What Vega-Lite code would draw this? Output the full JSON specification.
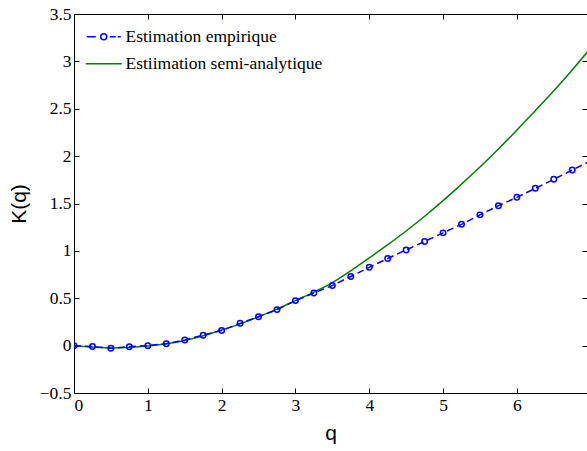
{
  "$schema": "https://vega.github.io/schema/vega-lite/v6.json",
  "width": 513,
  "height": 379,
  "autosize": {"type": "none"},
  "padding": {"left": 74, "top": 14, "right": 0, "bottom": 58},
  "background": "white",
  "config": {
    "view": {"stroke": null},
    "axis": {
      "grid": false,
      "domainColor": "#000000",
      "domainWidth": 1,
      "tickColor": "#000000",
      "tickWidth": 1,
      "tickSize": -5,
      "labelFont": "Liberation Serif, Times New Roman, serif",
      "labelFontSize": 17.5,
      "labelColor": "#000000",
      "titleFont": "Liberation Sans, Arial, sans-serif",
      "titleFontSize": 21,
      "titleFontWeight": "normal",
      "titleColor": "#000000"
    }
  },
  "data": {
    "values": [
      {"q": 0, "K": 0, "series": "Estimation empirique"},
      {"q": 0.25, "K": -0.01, "series": "Estimation empirique"},
      {"q": 0.5, "K": -0.027, "series": "Estimation empirique"},
      {"q": 0.75, "K": -0.012, "series": "Estimation empirique"},
      {"q": 1, "K": 0, "series": "Estimation empirique"},
      {"q": 1.25, "K": 0.02, "series": "Estimation empirique"},
      {"q": 1.5, "K": 0.06, "series": "Estimation empirique"},
      {"q": 1.75, "K": 0.11, "series": "Estimation empirique"},
      {"q": 2, "K": 0.16, "series": "Estimation empirique"},
      {"q": 2.25, "K": 0.235, "series": "Estimation empirique"},
      {"q": 2.5, "K": 0.305, "series": "Estimation empirique"},
      {"q": 2.75, "K": 0.38, "series": "Estimation empirique"},
      {"q": 3, "K": 0.475, "series": "Estimation empirique"},
      {"q": 3.25, "K": 0.555, "series": "Estimation empirique"},
      {"q": 3.5, "K": 0.635, "series": "Estimation empirique"},
      {"q": 3.75, "K": 0.73, "series": "Estimation empirique"},
      {"q": 4, "K": 0.826, "series": "Estimation empirique"},
      {"q": 4.25, "K": 0.92, "series": "Estimation empirique"},
      {"q": 4.5, "K": 1.01, "series": "Estimation empirique"},
      {"q": 4.75, "K": 1.1, "series": "Estimation empirique"},
      {"q": 5, "K": 1.19, "series": "Estimation empirique"},
      {"q": 5.25, "K": 1.28, "series": "Estimation empirique"},
      {"q": 5.5, "K": 1.38, "series": "Estimation empirique"},
      {"q": 5.75, "K": 1.477, "series": "Estimation empirique"},
      {"q": 6, "K": 1.565, "series": "Estimation empirique"},
      {"q": 6.25, "K": 1.66, "series": "Estimation empirique"},
      {"q": 6.5, "K": 1.755, "series": "Estimation empirique"},
      {"q": 6.75, "K": 1.853, "series": "Estimation empirique"},
      {"q": 7, "K": 1.95, "series": "Estimation empirique"},
      {"q": 0, "K": 0, "series": "Estiimation semi-analytique"},
      {"q": 0.25, "K": -0.015, "series": "Estiimation semi-analytique"},
      {"q": 0.5, "K": -0.025, "series": "Estiimation semi-analytique"},
      {"q": 0.75, "K": -0.02, "series": "Estiimation semi-analytique"},
      {"q": 1, "K": -0.005, "series": "Estiimation semi-analytique"},
      {"q": 1.25, "K": 0.02, "series": "Estiimation semi-analytique"},
      {"q": 1.5, "K": 0.055, "series": "Estiimation semi-analytique"},
      {"q": 1.75, "K": 0.105, "series": "Estiimation semi-analytique"},
      {"q": 2, "K": 0.165, "series": "Estiimation semi-analytique"},
      {"q": 2.25, "K": 0.23, "series": "Estiimation semi-analytique"},
      {"q": 2.5, "K": 0.305, "series": "Estiimation semi-analytique"},
      {"q": 2.75, "K": 0.385, "series": "Estiimation semi-analytique"},
      {"q": 3, "K": 0.475, "series": "Estiimation semi-analytique"},
      {"q": 3.25, "K": 0.565, "series": "Estiimation semi-analytique"},
      {"q": 3.5, "K": 0.665, "series": "Estiimation semi-analytique"},
      {"q": 3.75, "K": 0.79, "series": "Estiimation semi-analytique"},
      {"q": 4, "K": 0.925, "series": "Estiimation semi-analytique"},
      {"q": 4.25, "K": 1.065, "series": "Estiimation semi-analytique"},
      {"q": 4.5, "K": 1.21, "series": "Estiimation semi-analytique"},
      {"q": 4.75, "K": 1.365, "series": "Estiimation semi-analytique"},
      {"q": 5, "K": 1.53, "series": "Estiimation semi-analytique"},
      {"q": 5.25, "K": 1.705, "series": "Estiimation semi-analytique"},
      {"q": 5.5, "K": 1.885, "series": "Estiimation semi-analytique"},
      {"q": 5.75, "K": 2.075, "series": "Estiimation semi-analytique"},
      {"q": 6, "K": 2.275, "series": "Estiimation semi-analytique"},
      {"q": 6.25, "K": 2.48, "series": "Estiimation semi-analytique"},
      {"q": 6.5, "K": 2.69, "series": "Estiimation semi-analytique"},
      {"q": 6.75, "K": 2.91, "series": "Estiimation semi-analytique"},
      {"q": 7, "K": 3.14, "series": "Estiimation semi-analytique"}
    ]
  },
  "layer": [
    {
      "encoding": {
        "x": {
          "field": "q", "type": "quantitative",
          "scale": {"domain": [0, 6.95], "nice": false, "zero": false},
          "axis": {"orient": "bottom", "values": [0, 1, 2, 3, 4, 5, 6], "format": "~g", "title": "q", "labelPadding": 8, "titlePadding": 9}
        },
        "y": {
          "field": "K", "type": "quantitative",
          "scale": {"domain": [-0.5, 3.5], "nice": false, "zero": false},
          "axis": {"orient": "left", "values": [-0.5, 0, 0.5, 1, 1.5, 2, 2.5, 3, 3.5], "format": "~g", "title": "K(q)", "labelPadding": 8, "titlePadding": 10}
        },
        "color": {
          "field": "series", "type": "nominal",
          "scale": {"domain": ["Estimation empirique", "Estiimation semi-analytique"], "range": ["#0000ff", "#008000"]},
          "legend": {
            "title": null,
            "orient": "none",
            "legendX": 21,
            "legendY": 14,
            "padding": 0,
            "symbolSize": 100,
            "symbolStrokeWidth": 1.5,
            "labelOffset": 13,
            "labelLimit": 400,
            "labelFont": "Liberation Serif, Times New Roman, serif",
            "labelFontSize": 17.5,
            "labelColor": "#000000",
            "rowPadding": 8,
            "encode": {
              "symbols": {
                "update": {
                  "shape": {"signal": "datum.value === 'Estimation empirique' ? 'M-3.4,0L-1.6,0M-0.6,0A0.6,0.6 0 1,1 0.6,0A0.6,0.6 0 1,1 -0.6,0M1.2,0L2.4,0M2.8,0L3.4,0' : 'M-3.6,0L3.6,0'"},
                  "fill": {"value": "transparent"},
                  "strokeDash": {"value": []},
                  "strokeWidth": {"value": 1.5}
                }
              }
            }
          }
        }
      },
      "layer": [
        {
          "transform": [{"filter": "datum.series === 'Estiimation semi-analytique'"}],
          "mark": {"type": "line", "clip": true, "strokeWidth": 1.5, "interpolate": "monotone"}
        },
        {
          "transform": [{"filter": "datum.series === 'Estimation empirique'"}],
          "mark": {"type": "line", "clip": true, "strokeWidth": 1.5, "strokeDash": [7, 4]}
        },
        {
          "transform": [{"filter": "datum.series === 'Estimation empirique'"}],
          "mark": {"type": "point", "clip": true, "shape": "circle", "filled": false, "size": 30, "strokeWidth": 1.5, "opacity": 1}
        }
      ]
    },
    {
      "transform": [{"filter": "datum.series === 'Estimation empirique'"}],
      "mark": {"type": "point", "opacity": 0},
      "encoding": {
        "x": {
          "field": "q", "type": "quantitative",
          "scale": {"domain": [0, 6.95], "nice": false, "zero": false},
          "axis": {"orient": "top", "values": [0, 1, 2, 3, 4, 5, 6], "labels": false, "title": null}
        },
        "y": {
          "field": "K", "type": "quantitative",
          "scale": {"domain": [-0.5, 3.5], "nice": false, "zero": false},
          "axis": {"orient": "right", "values": [-0.5, 0, 0.5, 1, 1.5, 2, 2.5, 3, 3.5], "labels": false, "title": null, "domain": false}
        }
      }
    }
  ],
  "resolve": {"axis": {"x": "independent", "y": "independent"}}
}
